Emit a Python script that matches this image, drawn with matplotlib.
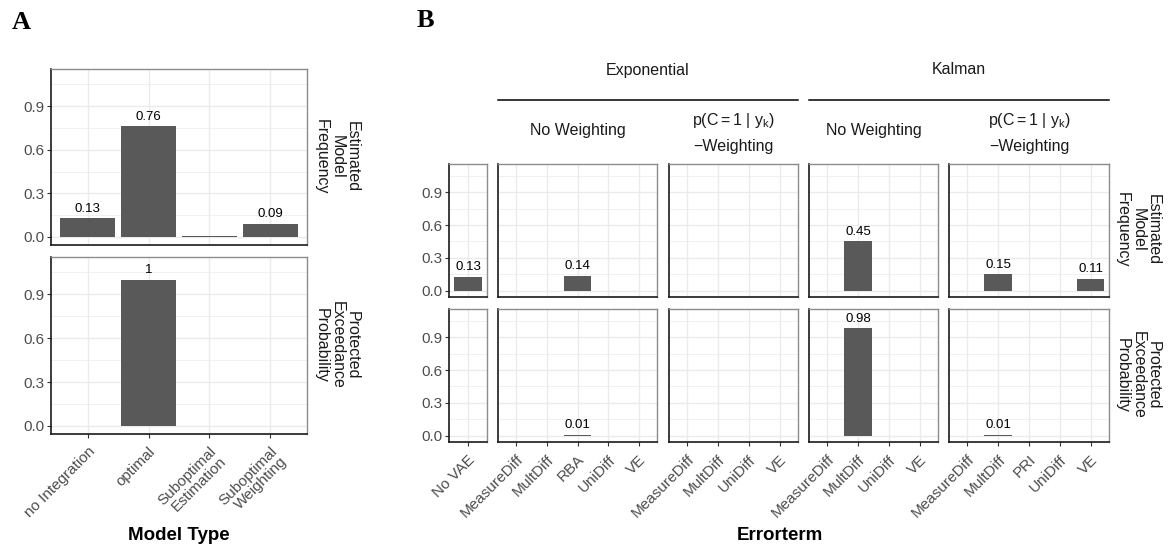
import matplotlib
matplotlib.use("Agg")
import matplotlib.pyplot as plt
from matplotlib.lines import Line2D

plt.rcParams["font.family"] = ["Liberation Sans", "DejaVu Sans"]
plt.rcParams["mathtext.fontset"] = "custom"
plt.rcParams["mathtext.rm"] = "Liberation Sans"
plt.rcParams["mathtext.it"] = "Liberation Sans"

# --- data -------------------------------------------------------------
model_types = ["no Integration", "optimal", "Suboptimal\nEstimation", "Suboptimal\nWeighting"]
a_emf = [0.13, 0.76, 0.004, 0.09]
a_pep = [0.0, 1.0, 0.0, 0.0]

novae_terms = ["No VAE"]
novae_emf = [0.13]
novae_pep = [0.004]

exp_now_terms = ["MeasureDiff", "MultDiff", "RBA", "UniDiff", "VE"]
exp_now_emf = [0.0, 0.0, 0.14, 0.0, 0.0]
exp_now_pep = [0.0, 0.0, 0.01, 0.0, 0.0]

exp_pw_terms = ["MeasureDiff", "MultDiff", "UniDiff", "VE"]
exp_pw_emf = [0.0, 0.0, 0.0, 0.0]
exp_pw_pep = [0.0, 0.0, 0.0, 0.0]

kal_now_terms = ["MeasureDiff", "MultDiff", "UniDiff", "VE"]
kal_now_emf = [0.0, 0.45, 0.0, 0.0]
kal_now_pep = [0.0, 0.98, 0.0, 0.0]

kal_pw_terms = ["MeasureDiff", "MultDiff", "PRI", "UniDiff", "VE"]
kal_pw_emf = [0.0, 0.15, 0.0, 0.0, 0.11]
kal_pw_pep = [0.0, 0.01, 0.0, 0.0, 0.004]

row_labels = ["Estimated\nModel\nFrequency", "Protected\nExceedance\nProbability"]

# --- layout helpers ---------------------------------------------------
W, H = 1169, 547
fig = plt.figure(figsize=(W / 100, H / 100), dpi=100)


def rect(x0, y0, x1, y1):
    return [x0 / W, 1 - y1 / H, (x1 - x0) / W, (y1 - y0) / H]


def fx(x):
    return x / W


def fy(y):
    return 1 - y / H


BAR = "#595959"
GRID = "#EBEBEB"
TICKCOL = "#4D4D4D"
STRIP_FS = 11.5


def panel(box, cats, vals, show_y, show_x, tick_fs, lab_fs):
    ax = fig.add_axes(rect(*box))
    xs = list(range(1, len(cats) + 1))
    ax.bar(xs, vals, width=0.9, color=BAR, linewidth=0, zorder=3)
    for x, v in zip(xs, vals):
        if round(v, 2) > 0:
            ax.annotate(f"{round(v, 2):g}", (x, v), xytext=(0, 2.5), textcoords="offset points",
                        ha="center", va="bottom", fontsize=lab_fs, color="black")
    ax.set_xlim(0.4, len(cats) + 0.6)
    ax.set_ylim(-0.055, 1.155)
    ax.set_yticks([0, 0.3, 0.6, 0.9])
    ax.set_yticks([0.15, 0.45, 0.75, 1.05], minor=True)
    ax.set_xticks(xs)
    ax.grid(which="major", color=GRID, lw=1.0)
    ax.grid(which="minor", axis="y", color=GRID, lw=0.5)
    ax.set_axisbelow(True)
    ax.tick_params(which="minor", length=0)
    ax.tick_params(which="major", length=3, width=0.8, color="#333333",
                   labelsize=tick_fs, labelcolor=TICKCOL, pad=2)
    if show_y:
        ax.set_yticklabels(["0.0", "0.3", "0.6", "0.9"])
    else:
        ax.tick_params(axis="y", left=False, labelleft=False)
    if show_x:
        ax.set_xticklabels(cats, rotation=45, ha="right", va="top",
                           rotation_mode="anchor", linespacing=1.0)
        ax.tick_params(axis="x", pad=4.5)
    else:
        ax.tick_params(axis="x", labelbottom=False)
        ax.tick_params(axis="x", bottom=False)
    for s in ["top", "right"]:
        ax.spines[s].set_color("#8C8C8C")
        ax.spines[s].set_linewidth(1.0)
    for s in ["left", "bottom"]:
        ax.spines[s].set_color("#1A1A1A")
        ax.spines[s].set_linewidth(1.2)
    return ax


# --- panel A ----------------------------------------------------------
panel((51, 69, 307, 245), model_types, a_emf, True, False, 11, 9.5)
panel((51, 257, 307, 434), model_types, a_pep, True, True, 11, 9.5)
for yc, lab in zip([157, 345], row_labels):
    fig.text(fx(337), fy(yc), lab, rotation=270, ha="center", va="center",
             multialignment="center", fontsize=STRIP_FS, linespacing=1.05, color="#1A1A1A")
fig.text(fx(179), fy(535), "Model Type", ha="center", va="center",
         fontsize=13.5, fontweight="bold")
fig.text(fx(12), fy(29), "A", ha="left", va="baseline", fontsize=19,
         fontweight="bold", family="Liberation Serif")

# --- panel B ----------------------------------------------------------
cols = [
    ((449, 487), novae_terms, novae_emf, novae_pep),
    ((498, 657), exp_now_terms, exp_now_emf, exp_now_pep),
    ((669, 798), exp_pw_terms, exp_pw_emf, exp_pw_pep),
    ((809, 938), kal_now_terms, kal_now_emf, kal_now_pep),
    ((949, 1109), kal_pw_terms, kal_pw_emf, kal_pw_pep),
]
for i, ((x0, x1), terms, emf, pep) in enumerate(cols):
    panel((x0, 164, x1, 297), terms, emf, i == 0, False, 11, 9.5)
    panel((x0, 309, x1, 442), terms, pep, i == 0, True, 11, 9.5)

# facet headers
for (x0, x1), lab in [((498, 798), "Exponential"), ((809, 1109), "Kalman")]:
    fig.add_artist(Line2D([fx(x0), fx(x1)], [fy(100), fy(100)], color="black", lw=1.1))
    fig.text(fx((x0 + x1) / 2), fy(70), lab, ha="center", va="center",
             fontsize=STRIP_FS, color="#1A1A1A")
for (x0, x1), kind in [((498, 657), "now"), ((669, 798), "pw"),
                       ((809, 938), "now"), ((949, 1109), "pw")]:
    xc = fx((x0 + x1) / 2)
    if kind == "now":
        fig.text(xc, fy(131), "No Weighting", ha="center", va="center",
                 fontsize=STRIP_FS, color="#1A1A1A")
    else:
        fig.text(xc, fy(120), r"$\mathrm{p(C = 1\ |\ y_k)}$", ha="center", va="center",
                 fontsize=STRIP_FS, color="#1A1A1A")
        fig.text(xc, fy(147), "\u2212Weighting", ha="center", va="center",
                 fontsize=STRIP_FS, color="#1A1A1A")

for yc, lab in zip([230, 375], row_labels):
    fig.text(fx(1138), fy(yc), lab, rotation=270, ha="center", va="center",
             multialignment="center", fontsize=STRIP_FS, linespacing=1.05, color="#1A1A1A")

fig.text(fx(780), fy(535), "Errorterm", ha="center", va="center",
         fontsize=13.5, fontweight="bold")
fig.text(fx(417), fy(27), "B", ha="left", va="baseline", fontsize=19,
         fontweight="bold", family="Liberation Serif")

fig.savefig("out.png", dpi=100)
